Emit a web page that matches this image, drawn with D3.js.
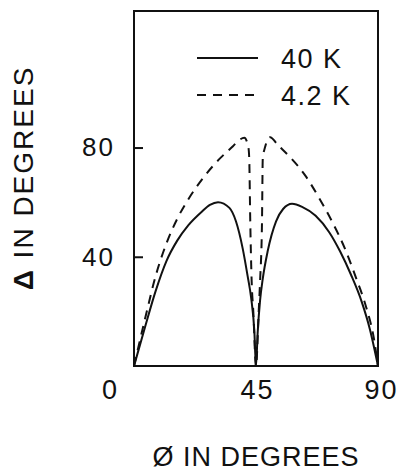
<!DOCTYPE html>
<html>
<head>
<meta charset="utf-8">
<script src="https://cdn.jsdelivr.net/npm/d3@7"></script>
<style>
  html, body { margin: 0; padding: 0; background: #fff; }
  svg { display: block; }
  text { font-family: "Liberation Sans", Arial, sans-serif; fill: #111; }
</style>
</head>
<body>
<svg id="chart" width="400" height="471"></svg>
<script>
// Angle phi (degrees) and gap anisotropy Delta (degrees) at 40 K
const phi40K = [0, 4, 8, 12, 16, 20, 25, 28, 31, 35.2, 37.6, 40.1, 41.9, 43.2, 44.4, 45,
                45.6, 46.5, 47.5, 49.3, 52.4, 55, 58.3, 62, 67, 72, 76, 80, 84, 87, 90];
const delta40K = [0, 14, 27.5, 38.5, 46, 51.5, 56.5, 59, 60, 57.9, 53, 43, 33, 25, 12.6, 0,
                  12, 24, 32, 42, 53, 57.5, 59.4, 58.3, 55, 49, 42, 33.5, 23.5, 13.5, 0];

// Same quantity at 4.2 K
const phi4K = [0, 4, 8, 12, 16, 20, 26, 32, 36.5, 38.5, 40.7, 42.2, 42.5, 42.9, 43.4, 44.0, 45,
               46.0, 46.5, 47.2, 47.5, 48.3, 50.2, 53, 58, 63, 68, 73, 78, 82, 85.5, 88.5, 90];
const delta4K = [0, 17, 33, 45, 54, 61, 69.5, 76.3, 80.5, 82.5, 83.6, 80, 76, 52, 31, 20, 0,
                 20, 31, 52, 76, 80, 83.8, 81, 76, 70, 62, 53, 42.5, 32, 22, 10, 0];

const xTicks = [0, 45, 90];
const yTicks = [40, 80];
const legendLabels = ["40 K", "4.2 K"];

const svg = d3.select("#chart");
const plot = { left: 134, right: 378, top: 11, bottom: 366 };

const x = d3.scaleLinear().domain([0, 90]).range([plot.left, plot.right]);
const y = d3.scaleLinear().domain([0, 130]).range([plot.bottom, plot.top]);

// frame
svg.append("rect")
  .attr("x", plot.left).attr("y", plot.top)
  .attr("width", plot.right - plot.left).attr("height", plot.bottom - plot.top)
  .attr("fill", "none").attr("stroke", "#111").attr("stroke-width", 2);

// y axis: inward ticks at 40 and 80
const yAxis = svg.append("g")
  .attr("transform", `translate(${plot.left},0)`)
  .call(d3.axisLeft(y).tickValues(yTicks).tickSizeInner(-9).tickSizeOuter(0).tickPadding(19));
yAxis.select(".domain").remove();
yAxis.selectAll("line").attr("stroke", "#111").attr("stroke-width", 2);
yAxis.selectAll("text")
  .attr("font-size", 26).attr("letter-spacing", 2)
  .style("font-family", '"Liberation Sans", Arial, sans-serif').attr("fill", "#111");

// x axis labels
const xAxis = svg.append("g")
  .attr("transform", `translate(0,${plot.bottom})`)
  .call(d3.axisBottom(x).tickValues(xTicks).tickSize(0).tickPadding(14));
xAxis.select(".domain").remove();
xAxis.selectAll("text")
  .attr("font-size", 27).attr("letter-spacing", 2)
  .style("font-family", '"Liberation Sans", Arial, sans-serif').attr("fill", "#111")
  .attr("dx", d => d === 0 ? -24 : (d === 90 ? 3 : 1));

// curves
const line = d3.line()
  .x(d => x(d[0])).y(d => y(d[1]))
  .curve(d3.curveMonotoneX);

svg.append("path")
  .datum(d3.zip(phi40K, delta40K))
  .attr("d", line)
  .attr("fill", "none").attr("stroke", "#111").attr("stroke-width", 2);

svg.append("path")
  .datum(d3.zip(phi4K, delta4K))
  .attr("d", line)
  .attr("fill", "none").attr("stroke", "#111").attr("stroke-width", 2)
  .attr("stroke-dasharray", "9,7");

// legend
const legend = svg.append("g");
const legendRows = [
  { label: legendLabels[0], y: 58, dash: null },
  { label: legendLabels[1], y: 95, dash: "9,7" }
];
legendRows.forEach(r => {
  legend.append("line")
    .attr("x1", 197).attr("x2", 258).attr("y1", r.y).attr("y2", r.y)
    .attr("stroke", "#111").attr("stroke-width", 2)
    .attr("stroke-dasharray", r.dash);
  legend.append("text")
    .attr("x", 281).attr("y", r.y + 10)
    .attr("font-size", 27).attr("letter-spacing", 1.5)
    .text(r.label);
});

// axis titles
svg.append("text")
  .attr("x", 256).attr("y", 466)
  .attr("text-anchor", "middle")
  .attr("font-size", 27).attr("letter-spacing", 1)
  .text("Ø IN DEGREES");

const yTitle = svg.append("text")
  .attr("transform", "translate(33,178) rotate(-90)")
  .attr("text-anchor", "middle")
  .attr("font-size", 28).attr("letter-spacing", 2);
yTitle.append("tspan").attr("font-weight", "bold").text("Δ");
yTitle.append("tspan").text(" IN DEGREES");
</script>
</body>
</html>
